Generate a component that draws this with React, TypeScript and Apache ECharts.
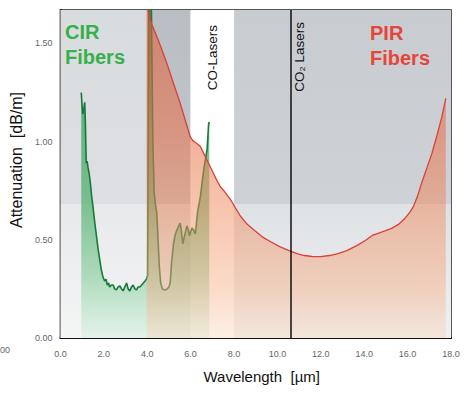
import { useEffect, useRef } from "react";
import * as echarts from "echarts";

// ---- data ----
const cirWavelength = [
  0.96, 1.0, 1.03, 1.08, 1.12, 1.15, 1.19, 1.23, 1.27, 1.32, 1.38, 1.44, 1.5, 1.58, 1.66, 1.74, 1.81, 1.88,
  1.96, 2.04, 2.1, 2.16, 2.22, 2.27, 2.35, 2.43, 2.5, 2.58, 2.66, 2.74, 2.82, 2.89, 2.97, 3.05, 3.12, 3.2,
  3.28, 3.35, 3.43, 3.51, 3.58, 3.66, 3.74, 3.82, 3.9, 3.97, 4.02, 4.05, 4.08, 4.18, 4.26, 4.32, 4.38, 4.44,
  4.5, 4.56, 4.62, 4.7, 4.8, 4.92, 5.0, 5.06, 5.12, 5.21, 5.3, 5.37, 5.45, 5.52, 5.58, 5.64, 5.72, 5.83,
  5.9, 5.95, 6.06, 6.14, 6.22, 6.32, 6.45, 6.6, 6.76, 6.83, 6.86,
];
const cirAttenuation = [
  1.25, 1.18, 1.14, 1.17, 1.2, 1.1, 0.89, 0.9, 0.87, 0.84, 0.79, 0.72, 0.67, 0.59, 0.52, 0.45, 0.4, 0.35,
  0.31, 0.29, 0.3, 0.27, 0.28, 0.26, 0.27, 0.27, 0.25, 0.245, 0.26, 0.265, 0.25, 0.24, 0.26, 0.28, 0.25, 0.24,
  0.26, 0.27, 0.25, 0.245, 0.26, 0.26, 0.27, 0.28, 0.29, 0.3, 0.32, 1.2, 1.8, 1.8, 1.0, 0.74, 0.68, 0.64,
  0.5, 0.36, 0.28, 0.25, 0.245, 0.25, 0.26, 0.28, 0.38, 0.48, 0.53, 0.55, 0.57, 0.585, 0.54, 0.48, 0.52, 0.57,
  0.55, 0.52, 0.56, 0.55, 0.53, 0.64, 0.72, 0.855, 0.96, 1.09, 1.1,
];
const pirWavelength = [
  3.97, 4.2, 4.5, 4.9, 5.2, 5.52, 5.75, 5.98, 6.1, 6.22, 6.35, 6.45, 6.6, 6.76, 7.0, 7.22, 7.37, 7.53, 7.84,
  8.05, 8.3, 8.6, 8.92, 9.3, 9.69, 10.1, 10.54, 10.9, 11.24, 11.6, 12.0, 12.4, 12.79, 13.2, 13.7, 14.1, 14.4,
  14.64, 14.95, 15.26, 15.6, 15.88, 16.1, 16.27, 16.45, 16.65, 16.9, 17.12, 17.35, 17.58, 17.76,
];
const pirAttenuation = [
  1.7, 1.6, 1.52, 1.4, 1.3, 1.195, 1.11, 1.025, 1.005, 0.995, 0.985, 0.975, 0.94, 0.905, 0.85, 0.8, 0.77, 0.75, 0.705,
  0.665, 0.62, 0.58, 0.55, 0.515, 0.49, 0.465, 0.445, 0.43, 0.42, 0.415, 0.414, 0.42, 0.43, 0.445, 0.473, 0.5, 0.524,
  0.533, 0.545, 0.558, 0.58, 0.61, 0.64, 0.67, 0.72, 0.79, 0.87, 0.94, 1.03, 1.127, 1.22,
];
const xAxisRange = [0, 18];
const yAxisRange = [0, 1.67];
const xTickStep = 2;
const yTickStep = 0.5;
const backgroundBandEdges = [0, 4, 6, 8, 18];
const coLaserBand = [6, 8];
const co2LaserWavelength = 10.6;

const FONT = '"Liberation Sans", Arial, Helvetica, sans-serif';

type Stop = [number, string];
const vGrad = (stops: Stop[]) =>
  new echarts.graphic.LinearGradient(
    0,
    0,
    0,
    1,
    stops.map(([offset, color]) => ({ offset, color }))
  );

const bandStyles: Stop[][] = [
  [[0, "#d9dcdf"], [0.59, "#dddfe2"], [0.59, "#e7e9eb"], [1, "#f4f5f5"]],
  [[0, "#b9bec5"], [0.59, "#c3c7cd"], [0.59, "#dadde0"], [1, "#eeeff0"]],
  [[0, "#ffffff"], [1, "#ffffff"]],
  [[0, "#c8cbd0"], [0.59, "#ced1d5"], [0.59, "#dfe2e5"], [1, "#eff0f1"]],
];

export default function App() {
  const ref = useRef<HTMLDivElement>(null);
  useEffect(() => {
    if (!ref.current) return;
    const chart = echarts.init(ref.current, undefined, { renderer: "svg" });

    const cirData = cirWavelength.map((x, i) => [x, cirAttenuation[i]]);
    const pirData = pirWavelength.map((x, i) => [x, pirAttenuation[i]]);
    const bandData = backgroundBandEdges.slice(0, -1).map((from, i) => [
      { xAxis: from, itemStyle: { color: vGrad(bandStyles[i]), opacity: 1 } },
      { xAxis: backgroundBandEdges[i + 1] },
    ]);

    const isTick = (v: number, step: number) =>
      Math.abs(v / step - Math.round(v / step)) < 1e-6;

    chart.setOption({
      animation: false,
      backgroundColor: "#ffffff",
      textStyle: { fontFamily: FONT },
      grid: {
        left: 59,
        right: 18,
        top: 10,
        bottom: 56,
        show: true,
        borderColor: "#222",
        borderWidth: 1.5,
        backgroundColor: "transparent",
      },
      xAxis: {
        type: "value",
        min: xAxisRange[0],
        max: xAxisRange[1],
        interval: xTickStep,
        name: "Wavelength  [µm]",
        nameLocation: "middle",
        nameGap: 31,
        nameTextStyle: { fontSize: 15, color: "#111", fontFamily: FONT, padding: [0, 0, 0, 12] },
        axisLine: { show: true, lineStyle: { color: "#111", width: 2 } },
        axisTick: { show: false },
        splitLine: { show: false },
        axisLabel: {
          fontSize: 9,
          color: "#666",
          margin: 11,
          formatter: (v: number) => (isTick(v, xTickStep) ? v.toFixed(1) : ""),
        },
      },
      yAxis: {
        type: "value",
        min: yAxisRange[0],
        max: yAxisRange[1],
        interval: yTickStep,
        name: "Attenuation  [dB/m]",
        nameLocation: "middle",
        nameRotate: 90,
        nameGap: 29,
        nameTextStyle: { fontSize: 16, color: "#111", fontFamily: FONT, padding: [0, 0, 0, 28] },
        axisLine: { show: true, lineStyle: { color: "#111", width: 2 } },
        axisTick: { show: false },
        splitLine: { show: false },
        axisLabel: {
          fontSize: 9,
          color: "#666",
          margin: 8,
          formatter: (v: number) => (isTick(v, yTickStep) ? v.toFixed(2) : ""),
        },
      },
      series: [
        {
          name: "CIR Fibers",
          type: "line",
          data: cirData,
          symbol: "none",
          smooth: false,
          clip: true,
          lineStyle: { color: "#177a38", width: 1.6 },
          areaStyle: {
            color: vGrad([
              [0, "rgba(20,140,55,0.92)"],
              [0.3, "rgba(25,145,60,0.9)"],
              [0.64, "rgba(55,168,90,0.84)"],
              [0.82, "rgba(110,198,135,0.74)"],
              [1, "rgba(205,240,214,0.62)"],
            ]),
          },
          markArea: { silent: true, z: 1, data: bandData },
          z: 2,
        },
        {
          name: "PIR Fibers",
          type: "line",
          data: pirData,
          symbol: "none",
          smooth: false,
          clip: true,
          lineStyle: { color: "#d8403a", width: 1.3 },
          areaStyle: {
            color: vGrad([
              [0, "rgba(222,90,58,0.86)"],
              [0.4, "rgba(232,115,75,0.8)"],
              [0.62, "rgba(240,140,95,0.72)"],
              [0.85, "rgba(246,175,135,0.65)"],
              [1, "rgba(250,216,192,0.6)"],
            ]),
          },
          markLine: {
            silent: true,
            symbol: ["none", "none"],
            label: { show: false },
            lineStyle: { color: "#111", width: 1.5, type: "solid" },
            data: [{ xAxis: co2LaserWavelength }],
          },
          z: 3,
        },
      ],
    });

    const top = chart.convertToPixel({ gridIndex: 0 }, [0, yAxisRange[1]])[1];
    const coX = chart.convertToPixel({ gridIndex: 0 }, [(coLaserBand[0] + coLaserBand[1]) / 2, 0])[0];
    const co2X = chart.convertToPixel({ gridIndex: 0 }, [co2LaserWavelength, 0])[0];

    chart.setOption({
      graphic: [
        {
          type: "text",
          x: coX,
          y: top + 15,
          rotation: Math.PI / 2,
          style: {
            text: "CO-Lasers",
            fontSize: 13.5,
            fontFamily: FONT,
            fill: "#111",
            align: "right",
            verticalAlign: "middle",
          },
          z: 10,
        },
        {
          type: "text",
          x: co2X + 9,
          y: top + 12,
          rotation: Math.PI / 2,
          style: {
            text: "CO₂ Lasers",
            fontSize: 13.5,
            fontFamily: FONT,
            fill: "#111",
            align: "right",
            verticalAlign: "middle",
          },
          z: 10,
        },
        {
          type: "text",
          x: 65,
          y: 32,
          style: { text: "CIR", fontSize: 20, fontWeight: "bold", fontFamily: FONT, fill: "#36b04b", verticalAlign: "middle" },
          z: 10,
        },
        {
          type: "text",
          x: 65,
          y: 57,
          style: { text: "Fibers", fontSize: 20, fontWeight: "bold", fontFamily: FONT, fill: "#36b04b", verticalAlign: "middle" },
          z: 10,
        },
        {
          type: "text",
          x: 370,
          y: 33,
          style: { text: "PIR", fontSize: 20, fontWeight: "bold", fontFamily: FONT, fill: "#e4463c", verticalAlign: "middle" },
          z: 10,
        },
        {
          type: "text",
          x: 370,
          y: 58,
          style: { text: "Fibers", fontSize: 20, fontWeight: "bold", fontFamily: FONT, fill: "#e4463c", verticalAlign: "middle" },
          z: 10,
        },
        {
          type: "text",
          x: 0,
          y: 350,
          style: { text: "00", fontSize: 9, fontFamily: FONT, fill: "#666", verticalAlign: "middle" },
          z: 10,
        },
      ],
    });

    return () => chart.dispose();
  }, []);
  return (
    <div
      ref={ref}
      style={{ position: "fixed", left: 0, top: 0, width: 469, height: 394, background: "#fff" }}
    />
  );
}
